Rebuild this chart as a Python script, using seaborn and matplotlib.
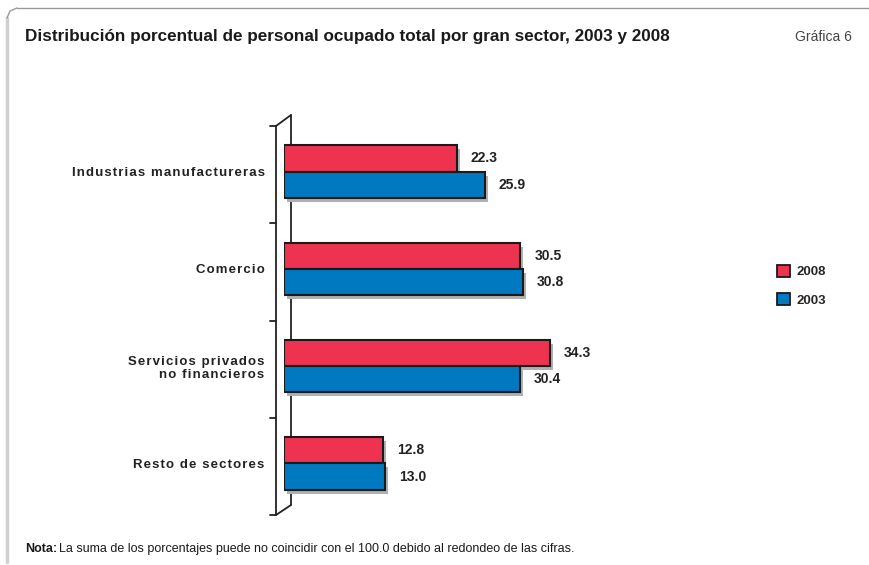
import pandas as pd
import matplotlib.pyplot as plt
import matplotlib.transforms as mtransforms
from matplotlib.patches import Rectangle
from matplotlib.lines import Line2D
import seaborn as sns

# Data
sectores = ["Industrias manufactureras", "Comercio",
            "Servicios privados\nno financieros", "Resto de sectores"]
valores_2008 = [22.3, 30.5, 34.3, 12.8]
valores_2003 = [25.9, 30.8, 30.4, 13.0]
anios = ["2008", "2003"]
colores = ["#EE3350", "#0079C0"]

df = pd.DataFrame({
    "sector": sectores * 2,
    "valor": valores_2008 + valores_2003,
    "anio": ["2008"] * 4 + ["2003"] * 4,
})

sns.set_style("white")
plt.rcParams['font.family'] = ['Liberation Sans', 'DejaVu Sans']

W, H = 869, 565
fig = plt.figure(figsize=(W / 100, H / 100), dpi=100)

# axes: x=0 at px 284, 7.75 px per unit; bands from y=123 to y=512
x_left, x_right = 284, 284 + 40 * 7.75
y_top, y_bot = 123, 512
ax = fig.add_axes([x_left / W, 1 - y_bot / H, (x_right - x_left) / W, (y_bot - y_top) / H])

sns.barplot(data=df, x="valor", y="sector", hue="anio", hue_order=anios,
            palette=colores, orient="h", width=0.54, saturation=1,
            edgecolor="#1a1a1a", linewidth=1.5, ax=ax, zorder=3)

ax.set_xlim(0, 40)
ax.set_ylim(3.5, -0.5)
ax.set_xlabel("")
ax.set_ylabel("")
ax.set_xticks([])
for s in ax.spines.values():
    s.set_visible(False)


def spaced(s):
    # wide letter spacing as in the original
    return "\n".join("\u200a".join(line) for line in s.split("\n"))


ax.set_yticks(range(len(sectores)))
ax.set_yticklabels([spaced(s) for s in sectores])
ax.tick_params(axis="y", length=0, pad=14, labelsize=9.5, labelcolor="#222222")
for t in ax.get_yticklabels():
    t.set_fontweight("bold")

# drop shadows behind bars
shadow_tr = ax.transData + mtransforms.ScaledTranslation(3 / 100, -4 / 100, fig.dpi_scale_trans)
for p in list(ax.patches):
    ax.add_patch(Rectangle((p.get_x(), p.get_y()), p.get_width(), p.get_height(),
                           transform=shadow_tr, facecolor="#b0b0b0",
                           edgecolor="none", zorder=2))

for cont in ax.containers:
    ax.bar_label(cont, fmt="%.1f", padding=10, fontsize=10, fontweight="bold", color="#222222")


# pseudo 3D vertical axis, drawn behind the bars
def fx(px):
    return px / W


def fy(py):
    return 1 - py / H


lc = "#222222"
segs = [
    ((276, 126), (276, 515)),
    ((291, 115), (291, 505)),
    ((276, 126), (291, 115)),
    ((276, 515), (291, 505)),
]
for k in range(5):
    yy = 126 + k * (515 - 126) / 4
    segs.append(((270, yy), (276, yy)))
for (x0, y0), (x1, y1) in segs:
    ax.add_line(Line2D([fx(x0), fx(x1)], [fy(y0), fy(y1)], color=lc, lw=1.3,
                       transform=fig.transFigure, clip_on=False, zorder=1))

# legend
handles, labels = ax.get_legend_handles_labels()
ax.get_legend().remove()
for h in handles:
    h.set_edgecolor("#1a1a1a")
    h.set_linewidth(1.3)
fig.legend(handles, labels, loc="upper left", bbox_to_anchor=(765 / W, 1 - 253 / H),
           frameon=False, handlelength=1.0, handleheight=1.0, handletextpad=0.5,
           labelspacing=1.15, prop={"weight": "bold", "size": 9.5})

# titles and note
fig.text(25 / W, fy(37), "Distribución porcentual de personal ocupado total por gran sector, 2003 y 2008",
         fontsize=12.3, fontweight="bold", color="#1a1a1a", va="center", ha="left")
fig.text(852 / W, fy(37), "Gráfica 6", fontsize=10, color="#444444", va="center", ha="right")
fig.text(25 / W, fy(549), "Nota:", fontsize=9, fontweight="bold", color="#1a1a1a", va="center")
fig.text(59 / W, fy(549), "La suma de los porcentajes puede no coincidir con el 100.0 debido al redondeo de las cifras.",
         fontsize=9, color="#1a1a1a", va="center")

# frame (left and top edges)
fig.add_artist(Line2D([fx(7), fx(7)], [fy(562), fy(18)], color="#d0d0d0", lw=2.5,
                      transform=fig.transFigure))
fig.add_artist(Line2D([fx(7), fx(10), fx(17)], [fy(18), fy(11), fy(8)], color="#999999", lw=1,
                      transform=fig.transFigure))
fig.add_artist(Line2D([fx(17), fx(869)], [fy(8), fy(8)], color="#999999", lw=1,
                      transform=fig.transFigure))

fig.savefig("out.png", dpi=100)
